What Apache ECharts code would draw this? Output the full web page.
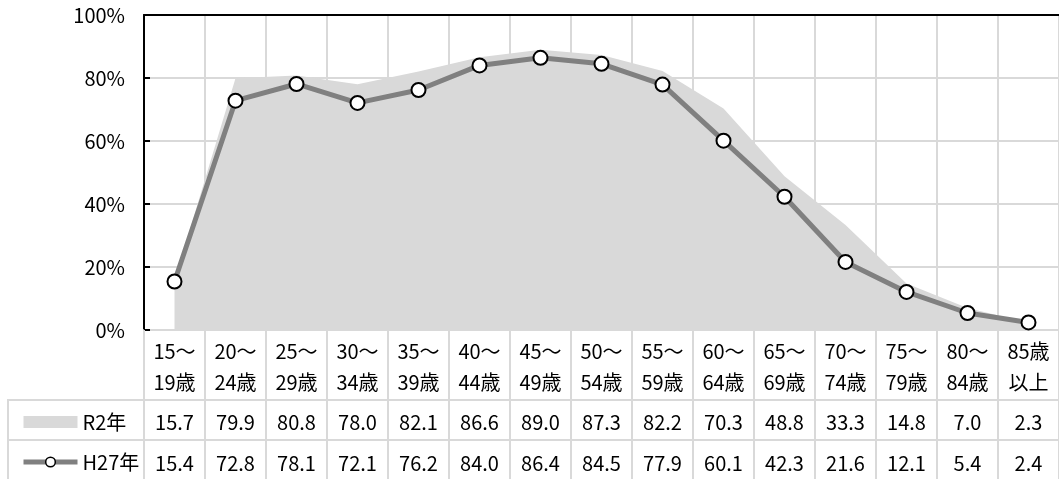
<!DOCTYPE html>
<html>
<head>
<meta charset="utf-8">
<script src="https://cdn.jsdelivr.net/npm/echarts@6/dist/echarts.min.js"></script>
<style>
  html, body { margin: 0; padding: 0; background: #fff; }
  #char1 { width: 1059px; height: 479px; }
</style>
</head>
<body>
<div id="char1"></div>
<script>
// 年齢階級
var ageGroups = ['15～\n19歳', '20～\n24歳', '25～\n29歳', '30～\n34歳', '35～\n39歳',
    '40～\n44歳', '45～\n49歳', '50～\n54歳', '55～\n59歳', '60～\n64歳',
    '65～\n69歳', '70～\n74歳', '75～\n79歳', '80～\n84歳', '85歳\n以上'];
// R2年 (%)
var r2Values = [15.7, 79.9, 80.8, 78.0, 82.1, 86.6, 89.0, 87.3, 82.2, 70.3, 48.8, 33.3, 14.8, 7.0, 2.3];
// H27年 (%)
var h27Values = [15.4, 72.8, 78.1, 72.1, 76.2, 84.0, 86.4, 84.5, 77.9, 60.1, 42.3, 21.6, 12.1, 5.4, 2.4];

var tableLine = '#d9d9d9';
var font = '"Noto Sans CJK JP", "Noto Sans", sans-serif';

var myChart = echarts.init(document.getElementById('char1'));

// value rows of the data table, drawn as extra x axes under the plot
function tableAxis(values, offset, margin) {
    return {
        type: 'category',
        position: 'bottom',
        offset: offset,
        data: values.map(function (v) { return v.toFixed(1); }),
        axisLine: { show: true, lineStyle: { color: tableLine, width: 2 } },
        axisTick: { show: false },
        splitLine: { show: false },
        axisLabel: { interval: 0, margin: margin, color: '#000', fontSize: 20, fontFamily: font }
    };
}

var option = {
    animation: false,
    backgroundColor: '#fff',
    textStyle: { fontFamily: font },
    grid: { left: 144, top: 15, width: 922, bottom: 149, containLabel: false },
    legend: {
        orient: 'vertical',
        left: 16,
        top: 407,
        itemWidth: 54,
        itemHeight: 12,
        itemGap: 20,
        selectedMode: false,
        textStyle: { fontSize: 20, color: '#000', fontFamily: font },
        data: [
            { name: 'R2年', icon: 'rect' },
            { name: 'H27年', lineStyle: { width: 5, color: '#808080' },
              itemStyle: { color: '#fff', borderColor: '#000', borderWidth: 1.5 } }
        ]
    },
    xAxis: [
        {
            type: 'category',
            position: 'bottom',
            boundaryGap: true,
            data: ageGroups,
            axisLine: { show: true, lineStyle: { color: tableLine, width: 2 } },
            axisTick: { show: true, interval: 0, length: 150, lineStyle: { color: tableLine, width: 2 } },
            splitLine: { show: true, interval: 0, lineStyle: { color: tableLine, width: 2 } },
            axisLabel: { interval: 0, margin: 6, lineHeight: 31, color: '#000', fontSize: 20, fontFamily: font }
        },
        tableAxis(r2Values, 70, 12),
        tableAxis(h27Values, 110, 13),
        {
            type: 'category',
            position: 'top',
            data: ageGroups,
            axisLine: { show: true, lineStyle: { color: '#000', width: 2 } },
            axisTick: { show: false },
            axisLabel: { show: false },
            splitLine: { show: false }
        }
    ],
    yAxis: {
        type: 'value',
        min: 0,
        max: 100,
        interval: 20,
        axisLine: { show: true, lineStyle: { color: '#000', width: 2 } },
        axisTick: { show: true, inside: true, length: 6, lineStyle: { color: '#000', width: 2 } },
        splitLine: { show: true, lineStyle: { color: tableLine, width: 2 } },
        axisLabel: { margin: 19, color: '#000', fontSize: 20, fontFamily: font, formatter: '{value}%' }
    },
    graphic: [
        { type: 'line', shape: { x1: 8, y1: 400, x2: 144, y2: 400 }, style: { stroke: tableLine, lineWidth: 2 } },
        { type: 'line', shape: { x1: 8, y1: 440, x2: 144, y2: 440 }, style: { stroke: tableLine, lineWidth: 2 } },
        { type: 'line', shape: { x1: 8, y1: 399, x2: 8, y2: 479 }, style: { stroke: tableLine, lineWidth: 2 } }
    ],
    series: [
        {
            name: 'R2年',
            type: 'line',
            data: r2Values,
            symbol: 'none',
            color: '#d9d9d9',
            itemStyle: { color: '#d9d9d9' },
            lineStyle: { width: 0, color: '#d9d9d9' },
            areaStyle: { color: '#d9d9d9', opacity: 1 },
            z: 2
        },
        {
            name: 'H27年',
            type: 'line',
            data: h27Values,
            symbol: 'circle',
            symbolSize: 14,
            color: '#808080',
            lineStyle: { color: '#808080', width: 5 },
            itemStyle: { color: '#fff', borderColor: '#000', borderWidth: 2 },
            z: 3
        }
    ]
};

myChart.setOption(option);
window.addEventListener('resize', function () { myChart.resize(); });
</script>
</body>
</html>
